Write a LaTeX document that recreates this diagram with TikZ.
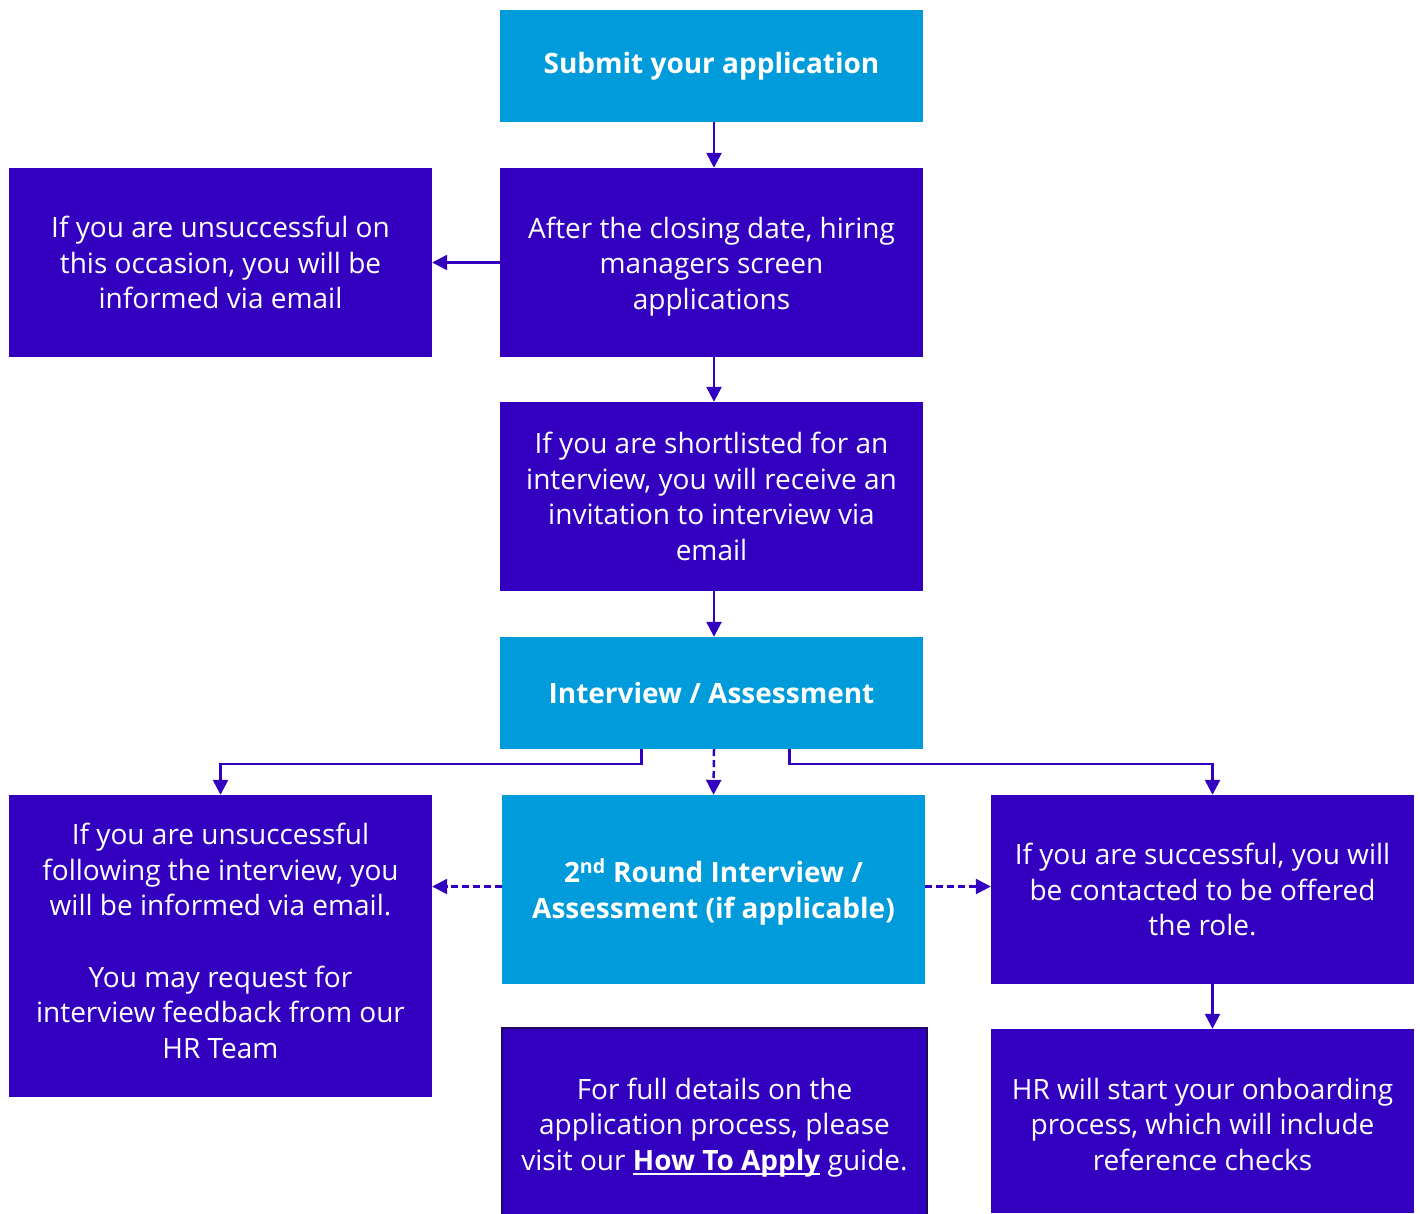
\documentclass[tikz,border=0pt]{standalone}
\usepackage{fontspec}
\setmainfont{Open Sans}
\usetikzlibrary{arrows.meta,positioning}
\definecolor{purp}{RGB}{51,0,192}
\definecolor{lblue}{RGB}{0,155,219}
\definecolor{navy}{RGB}{30,10,90}
\newcommand{\thickul}[1]{\setbox0\hbox{#1}\rlap{\rule[-5pt]{\wd0}{2.5pt}}\box0\relax}
\tikzset{
  box/.style={rectangle, fill=purp, text=white, align=center, inner sep=0pt,
    minimum width=423pt, font=\fontsize{28}{35.5}\selectfont},
  bluebox/.style={box, fill=lblue, font=\fontsize{28}{36}\selectfont\bfseries},
  txt/.style={text=white, align=center, inner sep=0pt, font=\fontsize{28}{35.5}\selectfont},
  arr/.style={draw=purp, line width=2.5pt, -{Triangle[length=15pt,width=15pt]}},
  darr/.style={arr, dash pattern=on 7pt off 4pt},
}
\begin{document}
\begin{tikzpicture}[x=1pt,y=-1pt]
\useasboundingbox (0,0) rectangle (1420,1213);
\node[bluebox, minimum height=112pt] (submit) at (711.5,66) {Submit your application};
\node[box, minimum height=189pt] (after) at (711.5,262.5) {};
\node[txt] (after-t) at ([yshift=-4pt]after.center) {After the closing date, hiring\\managers screen\\applications};
\node[box, minimum height=189pt] (unsucc1) at (220.5,262.5) {If you are unsuccessful on\\this occasion, you will be\\informed via email};
\node[box, minimum height=189pt] (short) at (711.5,496.5) {If you are shortlisted for an\\interview, you will receive an\\invitation to interview via\\email};
\node[bluebox, minimum height=112pt] (interview) at (711.5,693) {Interview / Assessment};
\node[box, minimum height=302pt] (unsucc2) at (220.5,946) {};
\node[txt] (unsucc2-t) at ([yshift=5pt]unsucc2.center) {If you are unsuccessful\\following the interview, you\\will be informed via email.\\[36pt]You may request for\\interview feedback from our\\HR Team};
\node[bluebox, minimum height=189pt] (second) at (713.5,889.5) {};
\node[txt, font=\fontsize{28}{36}\selectfont\bfseries] (second-t) at ([yshift=-2pt]second.center) {2\textsuperscript{nd} Round Interview /\\Assessment (if applicable)};
\node[box, minimum height=189pt] (success) at (1202.5,889.5) {If you are successful, you will\\be contacted to be offered\\the role.};
\node[box, minimum width=425pt, minimum height=200pt, draw=navy, line width=1.5pt] (details) at (714.5,1128) {};
\node[txt] (details-t) at (714.5,1127.5) {For full details on the\\application process, please\\visit our \thickul{\textbf{How To Apply}} guide.};
\node[box, minimum height=184pt] (hr) at (1202.5,1121) {};
\node[txt] (hr-t) at ([yshift=-3pt]hr.center) {HR will start your onboarding\\process, which will include\\reference checks};

\draw[arr] ([xshift=2.5pt]submit.south) -- ([xshift=2.5pt]after.north);
\draw[arr] (after.west) -- (unsucc1.east);
\draw[arr] ([xshift=2.5pt]after.south) -- ([xshift=2.5pt]short.north);
\draw[arr] ([xshift=2.5pt]short.south) -- ([xshift=2.5pt]interview.north);
\draw[arr] ([xshift=-70pt]interview.south) -- ++(0,15) -| (unsucc2.north);
\draw[arr] ([xshift=78pt]interview.south) -- ++(0,15) -| ([xshift=10pt]success.north);
\draw[darr] ([xshift=2.5pt]interview.south) -- (second.north);
\draw[darr] ([yshift=3pt]second.west) -- ([yshift=3pt]second.west -| unsucc2.east);
\draw[darr] ([yshift=3pt]second.east) -- ([yshift=3pt]success.west);
\draw[arr] ([xshift=10pt]success.south) -- ([xshift=10pt]hr.north);
\end{tikzpicture}
\end{document}
